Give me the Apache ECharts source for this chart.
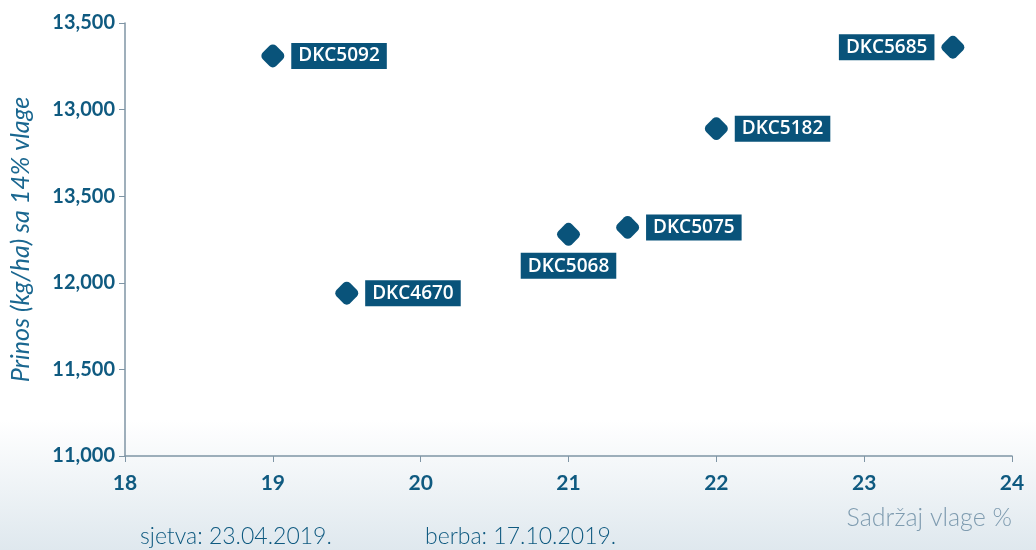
<!DOCTYPE html>
<html>
<head>
<meta charset="utf-8">
<script src="https://cdn.jsdelivr.net/npm/echarts@6/dist/echarts.min.js"></script>
<style>
  html, body { margin: 0; padding: 0; }
  body {
    width: 1036px; height: 550px; overflow: hidden;
    background: linear-gradient(to bottom, #ffffff 0px, #ffffff 420px, #dfe8ee 550px);
  }
  #chart { width: 1036px; height: 550px; }
</style>
</head>
<body>
<div id="chart"></div>
<script>
// hibridi i njihove vrijednosti
const hybrids = ['DKC5092', 'DKC5685', 'DKC5182', 'DKC5075', 'DKC5068', 'DKC4670']
const moisture = [19.0, 23.6, 22.0, 21.4, 21.0, 19.5]
const yieldKgHa = [13310, 13360, 12890, 12320, 12280, 11940]
const labelSide = ['right', 'left', 'right', 'right', 'bottom', 'right']
// oznake osi Y kako stoje na originalu
const yTickLabels = ['11,000', '11,500', '12,000', '13,500', '13,000', '13,500']

const dark = '#09537a'
const tickColor = '#0f5a80'

const chart = echarts.init(document.getElementById('chart'))

chart.setOption({
  backgroundColor: 'transparent',
  animation: false,
  grid: { left: 122, right: 24, top: 23, bottom: 94 },
  xAxis: {
    type: 'value',
    min: 18, max: 24, interval: 1,
    name: 'Sadržaj vlage %',
    nameLocation: 'end',
    nameGap: 0,
    nameTextStyle: {
      color: '#7f9cb0', fontSize: 25, fontFamily: 'Lato', fontWeight: 300,
      align: 'right', verticalAlign: 'top', padding: [49, 0, 0, 0],
    },
    axisLine: { lineStyle: { color: '#7f95a5', width: 1.5 } },
    axisTick: { show: true, length: 6, lineStyle: { color: '#7f95a5' } },
    axisLabel: { color: tickColor, fontSize: 21, fontWeight: 'bold', fontFamily: 'Lato', margin: 17 },
    splitLine: { show: false },
  },
  yAxis: {
    type: 'value',
    min: 11000, max: 13500, interval: 500,
    name: 'Prinos (kg/ha) sa 14% vlage',
    nameLocation: 'middle',
    nameGap: 92,
    nameTextStyle: {
      color: '#1a6790', fontSize: 25, fontStyle: 'italic', fontFamily: 'Lato', fontWeight: 400,
    },
    axisLine: { show: true, lineStyle: { color: '#7f95a5', width: 1.5 } },
    axisTick: { show: true, length: 6, lineStyle: { color: '#7f95a5' } },
    axisLabel: {
      color: tickColor, fontSize: 20, fontWeight: 'bold', fontFamily: 'Lato', margin: 10,
      formatter: (v) => yTickLabels[Math.round((v - 11000) / 500)],
    },
    splitLine: { show: false },
  },
  series: [
    {
      type: 'scatter',
      symbol: 'roundRect',
      symbolSize: 19,
      symbolRotate: 45,
      itemStyle: { color: dark, opacity: 1 },
      data: hybrids.map((name, i) => ({
        name,
        value: [moisture[i], yieldKgHa[i]],
        label: { position: labelSide[i] },
      })),
      label: {
        show: true,
        formatter: '{b}',
        distance: 5,
        color: '#ffffff',
        fontSize: 19,
        fontWeight: 600,
        fontFamily: 'Open Sans',
        backgroundColor: dark,
        padding: [4, 7, 3, 7],
      },
    },
  ],
  graphic: [
    {
      type: 'text', left: 140, top: 525,
      style: { text: 'sjetva: 23.04.2019.', fill: '#0f5a80', fontSize: 23, fontFamily: 'Lato', fontWeight: 300 },
    },
    {
      type: 'text', left: 425, top: 525,
      style: { text: 'berba: 17.10.2019.', fill: '#0f5a80', fontSize: 23, fontFamily: 'Lato', fontWeight: 300 },
    },
  ],
})
</script>
</body>
</html>
